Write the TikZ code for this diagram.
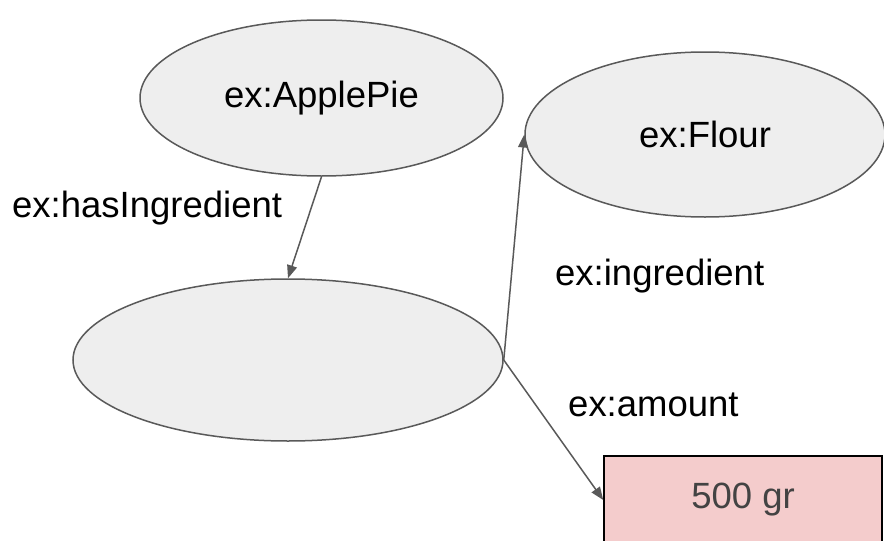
\documentclass[tikz,border=0pt]{standalone}
\usepackage{fontspec}
\setmainfont{Liberation Sans}
\usetikzlibrary{shapes.geometric,arrows.meta}

\definecolor{nodefill}{HTML}{EEEEEE}
\definecolor{nodeline}{HTML}{595959}
\definecolor{litfill}{HTML}{F4CCCC}
\definecolor{littext}{HTML}{434343}

\tikzset{
  rdfres/.style={ellipse, draw=nodeline, fill=nodefill, line width=1.5pt,
    inner sep=0pt, font=\fontsize{36.5}{44}\selectfont},
  rdflit/.style={rectangle, draw=black, fill=litfill, line width=1.5pt,
    inner sep=0pt, text=littext, font=\fontsize{36.5}{44}\selectfont},
  proplabel/.style={anchor=base west, inner sep=0pt,
    font=\fontsize{36.5}{44}\selectfont},
  prop/.style={draw=nodeline, line width=1.5pt,
    -{Triangle[length=13pt,width=10pt]}},
}

\begin{document}
\begin{tikzpicture}[x=1pt,y=-1pt]
  \useasboundingbox (0,0) rectangle (884,541);
  \clip (0,0) rectangle (884,541);

  % resources
  \node[rdfres, minimum width=363pt, minimum height=156pt] (pie) at (321.5,98) {ex:ApplePie};
  \node[rdfres, minimum width=360pt, minimum height=165pt] (flour) at (705,134.5) {ex:Flour};
  \node[rdfres, minimum width=430pt, minimum height=162pt] (blank) at (288,360) {};

  % literal value
  \node[rdflit, minimum width=278pt, minimum height=88pt] (amt) at (743,500) {500 gr};

  % properties
  \draw[prop] (pie.south) -- (blank.north);
  \draw[prop] (blank.east) -- (flour.west);
  \draw[prop] (blank.east) -- (amt.west);

  \node[proplabel] (lhas) at (12,217) {ex:hasIngredient};
  \node[proplabel] (ling) at (555,285) {ex:ingredient};
  \node[proplabel] (lamt) at (568,416) {ex:amount};
\end{tikzpicture}
\end{document}
